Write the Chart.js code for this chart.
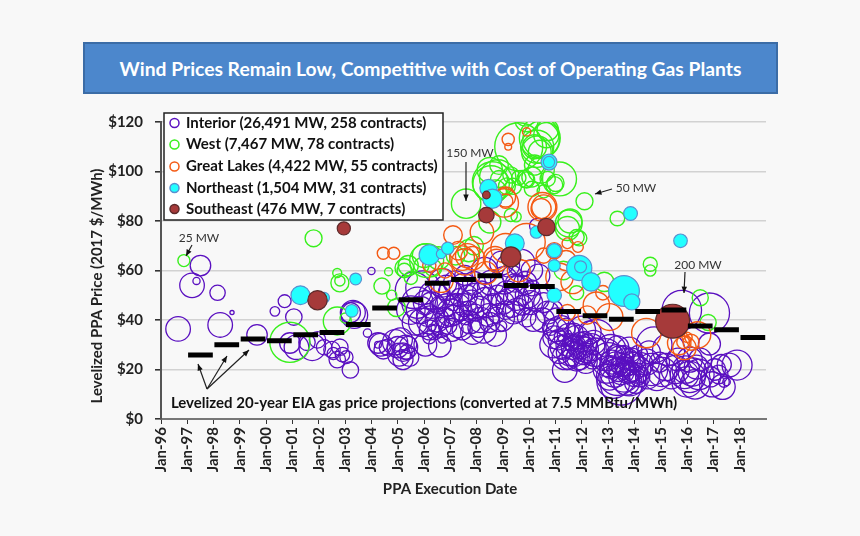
<!DOCTYPE html>
<html>
<head>
<meta charset="utf-8">
<title>Wind Prices</title>
<script src="https://cdn.jsdelivr.net/npm/chart.js@4"></script>
<style>
  html, body { margin: 0; padding: 0; background: #f8f8f8; }
  #wrap { position: relative; width: 860px; height: 536px; overflow: hidden; }
  #banner {
    position: absolute; left: 83px; top: 42px; width: 691px; height: 48px;
    border: 2px solid #3b6ca6; background: #4c87cc; color: #fff;
    font: bold 19.3px Lato, sans-serif; line-height: 50px; text-align: center;
  }
  canvas { position: absolute; left: 0; top: 0; }
</style>
</head>
<body>
<div id="wrap">
  <canvas id="chart" width="860" height="536"></canvas>
  <div id="banner">Wind Prices Remain Low, Competitive with Cost of Operating Gas Plants</div>
</div>
<script>
// every contract is [execution year, $/MWh, MW]
const interior = [
  [1996.65,36.4,105],[1997.18,54,105],[1997.35,55.8,9],[1997.5,62,73],[1998.15,51,41],[1998.25,38,105],[1998.7,43,3],
  [1999.65,34,73],[2000.33,43.5,16],[2000.7,47.6,29],[2001.05,41.2,47],[2000.9,30.7,73],[2001.15,29,105],[2001.75,29,123],
  [2001.55,31,47],[2001.95,32,47],[2002.2,29,41],[2002.5,28,47],[2002.8,29,47],[2002.9,26,36],[2002.7,24,47],[2002.55,26.5,26],
  [2003.2,19.8,47],[2003.05,25,30],[2003.35,42,123],[2003.3,43,105],[2003.2,43,70],[2003.85,34.7,12],[2004,59.8,9],
  [2004.25,30.7,73],[2004.25,30,8],[2004.35,30,90],[2004.45,28,60],[2004.6,29,45],[2004.9,31,110],[2005,29,80],[2005.1,32,100],
  [2005.2,27,60],[2005.3,29,100],[2005.4,30,50],[2005.35,27,40],[2005.2,24,70],[2005.05,26,90],[2005.45,25,60],
  [2005.6,52,230],[2005.5,44,140],[2005.75,47,170],[2005.95,53,200],[2005.85,44,130],[2005.65,39,110],[2005.95,39,140],
  [2006.05,47,100],[2006.15,42,90],[2006.2,36,70],[2006.05,30,90],[2006.2,33,30],[2006.25,40,140],[2006.3,46,120],[2006.35,50,140],
  [2006.3,37,8],[2006.4,35,40],[2006.45,49,140],[2006.5,40,100],[2006.55,46,50],[2006.6,29.6,88],[2006.7,32.7,18],[2006.65,37,70],
  [2006.7,55,140],[2006.8,41,70],[2006.85,46,90],[2006.9,38,60],[2007,43,130],[2007,51,100],[2007.05,36,90],[2007.1,47,45],
  [2007.15,42,70],[2007.2,55,100],[2007.25,45,140],[2007.3,38,110],[2007.35,49,60],[2007.4,43,45],[2007.45,36,70],[2007.5,53,140],
  [2007.55,46,90],[2007.6,41,36],[2007.65,50,70],[2007.7,44,60],[2007.75,39,90],[2007.8,47,110],[2007.85,35,100],[2007.9,55,90],
  [2007.95,43,50],[2008,49,150],[2008.05,37,70],[2008.1,45,90],[2008.15,40,110],[2008.2,52,60],[2008.25,36,120],[2008.35,47,160],
  [2008.45,42,90],[2008.5,39,70],[2008.55,55,110],[2008.6,46,90],[2008.7,34,90],[2008.75,42,45],[2008.8,50,70],[2008.9,41,140],
  [2008.95,37.6,18],[2009,47,90],[2009.05,56,130],[2009.1,44,60],[2009.15,51,100],[2009.2,62,90],[2009.3,47,150],[2009.35,58,70],
  [2009.4,43,90],[2009.45,55,60],[2009.5,49,110],[2009.55,44,100],[2009.65,52,160],[2009.7,63,130],[2009.75,46,70],[2009.85,55,90],
  [2009.9,41,60],[2009.95,50,110],[2010.05,47,100],[2010.1,53,45],[2010.15,40,90],[2010.25,49,130],[2010.3,78,40],[2010.35,58,90],
  [2010.5,40,100],[2010.55,47,70],[2010.7,43,90],[2010.8,37,45],[2010.9,44,70],[2011,36,100],
  [2008.3,60,120],[2008.95,63,100],[2010.1,60,80],[2007.55,58,70],[2006.85,53,110],
  [2010.95,33,90],[2010.9,30,120],[2011.05,40,100],[2011.1,32,70],[2011.15,27,90],[2011.2,36,140],[2011.25,29,100],[2011.3,33,60],
  [2011.35,19.8,105],[2011.35,25,110],[2011.4,37,60],[2011.45,30,90],[2011.5,24,70],[2011.5,34,90],[2011.55,27,130],[2011.6,31,50],
  [2011.65,28.7,90],[2011.7,26,100],[2011.7,35,60],[2011.75,30,70],[2011.8,24,90],[2011.8,33,100],[2011.85,28,60],[2011.9,25,110],
  [2011.95,31,70],[2012,29,90],[2012,36,130],[2012.05,26,70],[2012.1,32,50],[2012.15,28,110],[2012.15,23,90],[2012.2,30,70],
  [2012.25,26,60],[2012.3,35,90],[2012.35,29,130],[2012.4,24,60],[2012.45,31,100],[2012.5,27,140],[2012.55,33,220],
  [2012.9,26,180],[2012.95,20,130],[2013,24,200],[2013.05,17,120],[2013.1,28,160],[2013.1,21,90],[2013.15,23,100],[2013.2,15,190],
  [2013.25,19,160],[2013.3,26,70],[2013.3,22,110],[2013.35,29,90],[2013.35,17,240],[2013.4,20,100],[2013.45,24,130],[2013.5,14,300],
  [2013.5,19,110],[2013.55,22,90],[2013.6,26,60],[2013.6,17,160],[2013.65,21,70],[2013.7,15,120],[2013.7,23,130],[2013.75,19,90],
  [2013.8,28,110],[2013.8,16,190],[2013.85,21,160],[2013.9,24,90],[2013.9,19,60],[2014,18,100],[2014,23,70],[2014.05,15,90],
  [2014.1,20,130],[2014.15,26,60],[2014.2,17,70],[2014.25,22,100],
  [2014.45,23,120],[2014.5,17,100],[2014.55,27,90],[2014.65,20,180],[2014.75,30,220],[2014.85,17,130],[2014.95,23,70],[2015.05,19,150],
  [2015.2,21,130],[2015.3,28,180],[2015.4,17,100],[2015.55,20,140],[2015.65,24,90],[2015.8,44,270],[2015.9,18,140],[2016,15,160],
  [2015.95,20,130],[2016.1,17,170],[2016.1,24,110],[2016.2,19,140],[2016.3,14,150],[2016.35,21,100],[2016.45,18,160],[2016.5,24,90],
  [2016.85,42.8,280],[2016.85,30.3,84],[2016.9,17,70],[2016.95,14,110],[2017.05,20,80],[2017.2,18,60],[2017.3,22,70],[2017.35,13,110],
  [2017.4,15,20],[2017.5,15,10],[2017.6,21.8,100],[2017.9,21.8,156]
];
const west = [
  [1996.87,64,25],[2001.8,73,50],[2000.9,31,280],[2002.7,39.6,135],[2003,40.8,18],[2002.8,55,56],[2002.8,55.8,18],[2002.7,59,14],
  [2004.65,59.5,11],[2004.4,53.7,45],[2004.77,50,18],[2004.95,45,55],[2005.25,60,36],[2005.25,61,60],[2006.1,64,200],[2006,66,95],
  [2006.55,65,90],[2005.4,62,70],[2007.7,68,85],[2007.2,66,60],[2007.6,87,150],[2012.1,88,50],[2013.35,81,37],[2014.6,62.5,34],
  [2014.6,60,22],[2008.6,95.8,280],[2008.55,95,230],[2008.7,92,90],[2008.85,102.6,60],[2008.85,97,50],[2009.15,94,50],[2009.4,94,45],
  [2009.6,110,400],[2009.85,123,90],[2010.4,113.5,290],[2010.45,113,230],[2010.2,110,100],[2010.3,108,170],[2010.2,102.6,70],
  [2009.85,97,50],[2010.1,93,40],[2010.55,92,30],[2011.15,97,200],[2010.95,94.5,50],[2010.7,97,40],[2011.5,79,125],[2011.55,80,100],
  [2011.8,73.5,40],[2009.5,81.7,18],[2008.5,79.6,85],[2011.8,51,35],[2012.85,55.4,65],[2011.3,60,60],[2016.5,49,45],[2016.8,39,45],
  [2009.3,98.6,45],[2009.6,97.4,36],[2009.9,96.6,45],[2010.1,97.8,70],[2010.45,100.6,120],[2010.4,108,90],[2010.3,110,190],
  [2010.65,114.7,110],[2010.7,116.8,80],[2009.9,120.8,95],[2011,95.4,50],[2011.45,77,100],[2011.9,73,40],[2008.5,100.6,110],
  [2009.3,82.4,30],[2008.8,97.4,230],[2007.9,70,60],[2005.9,62,40],[2006.35,61,50],[2005.5,57,30]
];
const greatLakes = [
  [2004.45,67,25],[2004.85,67,25],[2009.2,113,26],[2009.2,110,8],[2009.9,116,12],[2009.1,89.7,70],[2009.05,87.3,140],[2009.1,88,36],
  [2010.5,85.7,145],[2010.55,85.7,100],[2010.45,85,70],[2007.1,74.3,60],[2008.2,75.5,95],[2009.9,71.5,240],[2011.45,71,20],[2011.85,69.5,20],
  [2007.45,65,105],[2007.85,65,95],[2008.7,65,95],[2006.65,56,100],[2007.55,63.5,120],[2007.65,66,100],[2007.3,68,60],[2008.35,59,90],
  [2008.75,64,90],[2009.6,60,90],[2009.1,69,150],[2010.55,66,40],[2011.15,57.4,130],[2011.65,55.4,95],[2011.45,43,45],[2012.2,42,58],
  [2012.55,46,120],[2013.05,41.2,125],[2012.8,51,36],[2014.45,34.7,150],[2015.7,30.7,95],[2015.9,28.7,95],[2016.15,31,45],[2016.4,34,120],
  [2016,33,18],[2015.85,31,28],[2006.2,62,30],[2006.8,60,40],[2010.95,68,45],[2011.4,64,70]
];
const northeast = [
  [2001.3,50,62],[2002.2,49,20],[2003.4,56.6,24],[2003.25,43.7,28],[2006.2,66.3,72],[2006.65,66.7,16],[2006.9,69,26],[2008.45,93.3,52],
  [2008.6,89,64],[2009.45,71,62],[2010.27,75.5,26],[2010.75,103.8,44],[2010.75,103.8,22],[2010.95,68,34],[2010.95,62,25],[2010.95,50,36],
  [2011.9,61,110],[2011.95,61.5,25],[2012.35,55.4,60],[2013.6,51.7,165],[2013.9,47.3,45],[2013.85,83,33],[2015.75,72,32]
];
const southeast = [
  [2001.95,48,65],[2002.95,77,30],[2008.37,82.4,42],[2008.37,90.5,10],[2009.3,65.5,70],[2010.65,77.6,52],[2015.45,39.5,200]
];

// levelized gas price per year, starting at Jan-97
const gasStartYear = 1997;
const gasPrices = [25.9,30,32.3,31.6,34,35,38.2,44.8,48.2,54.8,56.4,57.9,53.9,53.5,43.4,41.7,40.3,43.4,44,37.6,36.1,32.9];

const xTickLabels = ['Jan-96','Jan-97','Jan-98','Jan-99','Jan-00','Jan-01','Jan-02','Jan-03','Jan-04','Jan-05','Jan-06','Jan-07',
  'Jan-08','Jan-09','Jan-10','Jan-11','Jan-12','Jan-13','Jan-14','Jan-15','Jan-16','Jan-17','Jan-18'];
const legendLabels = ['Interior (26,491 MW, 258 contracts)','West (7,467 MW, 78 contracts)','Great Lakes (4,422 MW, 55 contracts)',
  'Northeast (1,504 MW, 31 contracts)','Southeast (476 MW, 7 contracts)'];

const PURPLE = '#5a10c0', GREEN = '#38f01c', ORANGE = '#f45a14', CYAN = '#22ffff', BROWN = '#a63a3a';
const FONT = 'Lato, sans-serif';

function bubbles(list) {
  return list.map(p => ({ x: p[0], y: p[1], r: 1.2 * Math.sqrt(p[2]) }));
}

function gasSegments() {
  const out = [];
  gasPrices.forEach((v, i) => {
    out.push({ x: gasStartYear + i + 0.03, y: v }, { x: gasStartYear + i + 0.97, y: v }, { x: gasStartYear + i + 0.98, y: NaN });
  });
  return out;
}

function drawArrow(ctx, x1, y1, x2, y2) {
  const a = Math.atan2(y2 - y1, x2 - x1);
  ctx.beginPath();
  ctx.moveTo(x1, y1);
  ctx.lineTo(x2, y2);
  ctx.stroke();
  ctx.beginPath();
  ctx.moveTo(x2, y2);
  ctx.lineTo(x2 - 7 * Math.cos(a - 0.4), y2 - 7 * Math.sin(a - 0.4));
  ctx.lineTo(x2 - 7 * Math.cos(a + 0.4), y2 - 7 * Math.sin(a + 0.4));
  ctx.closePath();
  ctx.fill();
}

// callouts, axis titles and the legend box sit on top of everything
const overlay = {
  id: 'overlay',
  afterDraw(chart) {
    const ctx = chart.ctx;
    ctx.save();
    ctx.fillStyle = '#333';
    ctx.strokeStyle = '#222';
    ctx.lineWidth = 1.2;
    ctx.textAlign = 'center';
    ctx.textBaseline = 'middle';
    ctx.font = '12px ' + FONT;
    ctx.fillText('25 MW', 199, 238);
    ctx.fillText('150 MW', 470, 153);
    ctx.fillText('50 MW', 636, 188);
    ctx.fillText('200 MW', 698, 265);
    ctx.fillStyle = '#111';
    drawArrow(ctx, 192, 245, 186, 256);
    drawArrow(ctx, 466, 162, 466, 201);
    drawArrow(ctx, 612, 189, 595, 194);
    drawArrow(ctx, 685, 272, 684, 293);
    drawArrow(ctx, 207, 389, 198, 364);
    drawArrow(ctx, 207, 389, 227, 356);
    drawArrow(ctx, 207, 389, 249, 350);
    ctx.font = 'bold 15px ' + FONT;
    ctx.fillText('Levelized 20-year EIA gas price projections (converted at 7.5 MMBtu/MWh)', 424, 403);

    ctx.fillStyle = '#222';
    ctx.fillText('PPA Execution Date', 450, 489);
    ctx.save();
    ctx.translate(97, 286);
    ctx.rotate(-Math.PI / 2);
    ctx.fillText('Levelized PPA Price (2017 $/MWh)', 0, 0);
    ctx.restore();

    ctx.fillStyle = '#fff';
    ctx.strokeStyle = '#222';
    ctx.lineWidth = 1.5;
    ctx.fillRect(164, 113, 279, 107);
    ctx.strokeRect(164, 113, 279, 107);
    const rows = [123, 144.5, 166.5, 188, 209];
    const edges = [PURPLE, GREEN, ORANGE, '#5a8fd0', '#5c2a2a'];
    const fills = [null, null, null, CYAN, BROWN];
    ctx.textAlign = 'left';
    legendLabels.forEach((label, i) => {
      ctx.beginPath();
      ctx.arc(174.5, rows[i], 4.5, 0, Math.PI * 2);
      if (fills[i]) { ctx.fillStyle = fills[i]; ctx.fill(); }
      ctx.strokeStyle = edges[i];
      ctx.lineWidth = 1.5;
      ctx.stroke();
      ctx.fillStyle = '#111';
      ctx.fillText(label, 186, rows[i]);
    });
    ctx.restore();
  }
};

new Chart(document.getElementById('chart').getContext('2d'), {
  type: 'bubble',
  data: {
    datasets: [
      { type: 'scatter', showLine: true, data: gasSegments(), borderColor: '#000', borderWidth: 5, pointRadius: 0, order: 0 },
      { data: bubbles(southeast), backgroundColor: BROWN, borderColor: '#5c2a2a', borderWidth: 1.2, order: 1 },
      { data: bubbles(northeast), backgroundColor: CYAN, borderColor: '#5a8fd0', borderWidth: 1.2, order: 2 },
      { data: bubbles(greatLakes), backgroundColor: 'transparent', borderColor: ORANGE, borderWidth: 1.4, order: 3 },
      { data: bubbles(west), backgroundColor: 'transparent', borderColor: GREEN, borderWidth: 1.4, order: 4 },
      { data: bubbles(interior), backgroundColor: 'transparent', borderColor: PURPLE, borderWidth: 1.3, order: 5 }
    ]
  },
  plugins: [overlay],
  options: {
    responsive: false,
    animation: false,
    layout: { padding: { left: 88, top: 122, right: 94, bottom: 38 } },
    plugins: { legend: { display: false }, tooltip: { enabled: false } },
    scales: {
      x: {
        type: 'linear',
        min: 1996,
        max: 2019,
        afterFit: s => { s.height = 79; },
        afterBuildTicks: s => { s.ticks = s.ticks.filter(t => t.value < 2019); },
        border: { color: '#777', width: 2 },
        grid: { drawOnChartArea: false, color: '#333', tickLength: 5 },
        ticks: {
          stepSize: 1,
          autoSkip: false,
          minRotation: 90,
          maxRotation: 90,
          padding: 3,
          color: '#222',
          font: { family: FONT, size: 15, weight: 'bold' },
          callback: v => xTickLabels[v - 1996] || ''
        }
      },
      y: {
        min: 0,
        max: 120,
        afterFit: s => { s.width = 73; },
        border: { color: '#555', width: 2 },
        grid: { color: '#d2d2d2', lineWidth: 1.6, tickColor: '#333', tickLength: 6 },
        ticks: {
          stepSize: 20,
          padding: 12,
          color: '#222',
          font: { family: FONT, size: 15, weight: 'bold' },
          callback: v => '$' + v
        }
      }
    }
  }
});
</script>
</body>
</html>
